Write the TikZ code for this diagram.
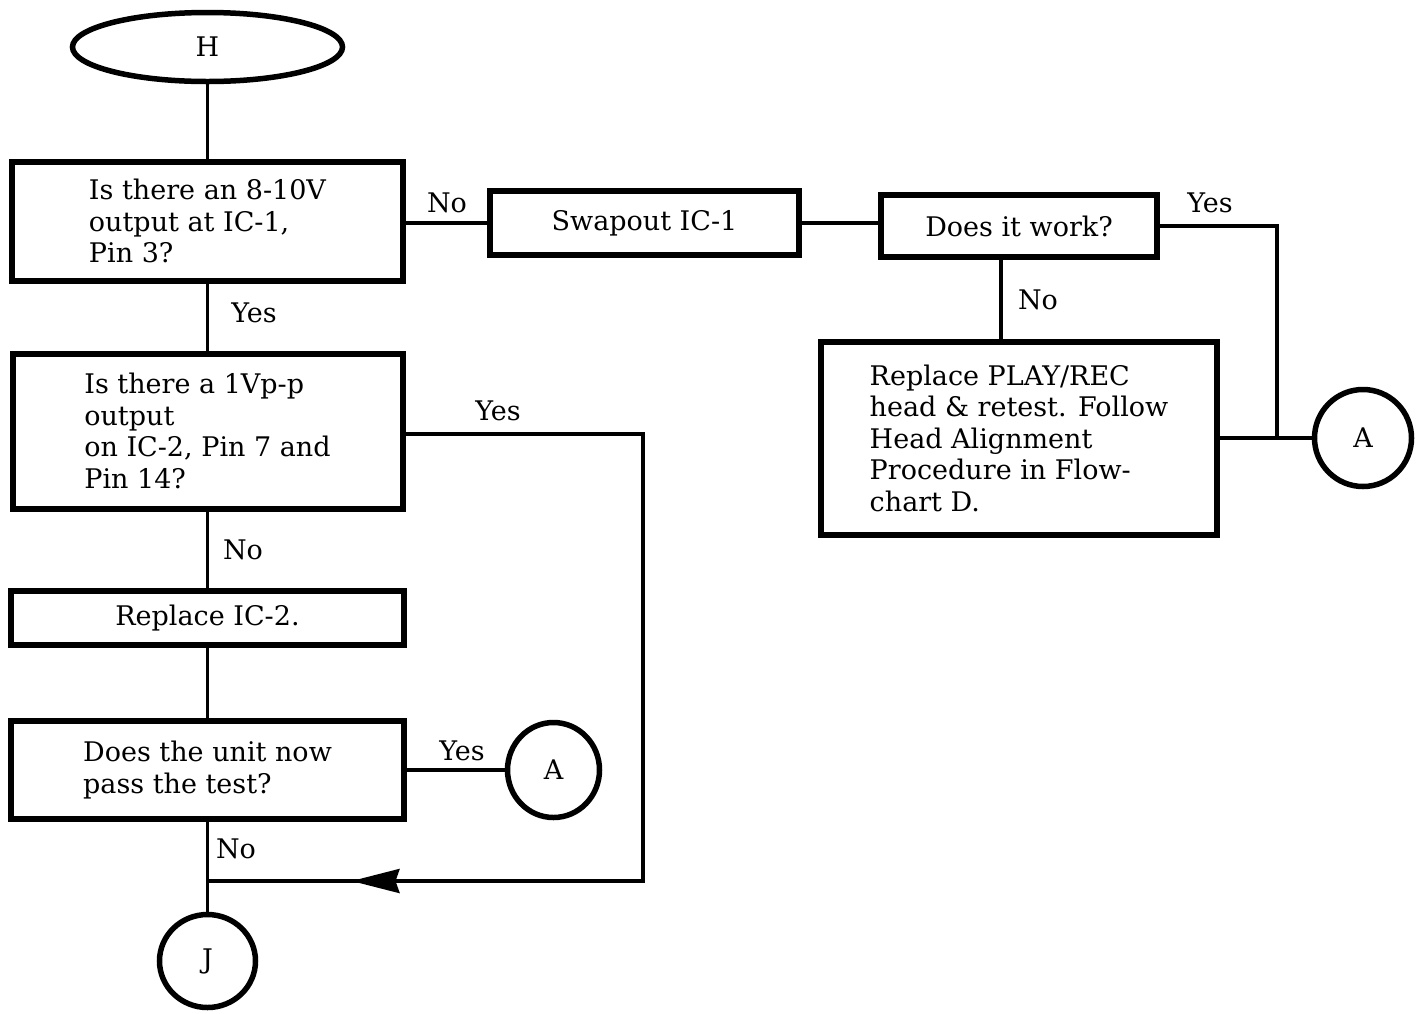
\documentclass[tikz,border=0pt]{standalone}
\usepackage{fontspec}
\setmainfont{DejaVu Serif}
\usetikzlibrary{arrows.meta,decorations.markings,shapes.geometric}
\begin{document}
\begin{tikzpicture}[x=1pt,y=-1pt,
  box/.style={draw,line width=6pt,inner sep=0pt,align=left,
    font=\fontsize{27}{31.5}\selectfont},
  term/.style={draw,line width=5.5pt,ellipse,inner sep=0pt,
    font=\fontsize{27}{30}\selectfont},
  conn/.style={line width=3.5pt},
  lbl/.style={inner sep=0pt,font=\fontsize{27}{30}\selectfont},
  midarrow/.style={postaction={decorate},decoration={markings,
    mark=at position -144pt with {\arrow{Stealth[length=48pt,width=24pt,inset=4pt]}}}}]
\useasboundingbox (0,0) rectangle (1423,1013);

% nodes
\node[term,minimum width=270,minimum height=69] (H) at (207.5,47) {H};
\node[box,minimum width=391,minimum height=119] (b1) at (207.5,221) {Is there an 8-10V\\output at IC-1,\\Pin 3?};
\node[box,minimum width=309,minimum height=64] (swap) at (644.5,223) {Swapout IC-1};
\node[box,minimum width=276,minimum height=62] (work) at (1019,226) {Does it work?};
\node[box,minimum width=396,minimum height=193] (play) at (1019,438) {Replace PLAY/REC\\head \& retest. Follow\\Head Alignment\\Procedure in Flow-\\chart D.};
\node[term,minimum width=97,minimum height=97] (A1) at (1363,438) {A};
\node[box,minimum width=390,minimum height=155] (b2) at (207.5,431) {Is there a 1Vp-p\\output\\on IC-2, Pin 7 and\\Pin 14?};
\node[box,minimum width=393,minimum height=54] (b3) at (207.5,618) {Replace IC-2.};
\node[box,minimum width=393,minimum height=98] (b4) at (207.5,770) {Does the unit now\\pass the test?};
\node[term,minimum width=92,minimum height=95] (A2) at (553.5,770) {A};
\node[term,minimum width=96,minimum height=93] (J) at (207.5,961) {J};

% junction coordinates
\coordinate (jA) at (1277,438);
\coordinate (c1) at (643,434);
\coordinate (c2) at (643,881);
\coordinate (jn) at (207.5,881);
\coordinate (wN) at (1001,257);

% connectors
\draw[conn] (H.south) -- (b1.north);
\draw[conn] (b1.east |- swap.west) -- (swap.west);
\draw[conn] (swap.east) -- (swap.east -| work.west);
\draw[conn] (work.east) -| (jA);
\draw[conn] (wN) -- (wN |- play.north);
\draw[conn] (play.east) -- (A1.west);
\draw[conn] (b1.south) -- (b2.north);
\draw[conn,midarrow] (b2.east |- c1) -- (c1) -- (c2) -- (jn);
\draw[conn] (b2.south) -- (b3.north);
\draw[conn] (b3.south) -- (b4.north);
\draw[conn] (b4.east) -- (A2.west);
\draw[conn] (b4.south) -- (J.north);

% labels
\node[lbl] (l1) at (447,203) {No};
\node[lbl] (l2) at (1210,203) {Yes};
\node[lbl] (l3) at (1038,300) {No};
\node[lbl] (l4) at (254,313) {Yes};
\node[lbl] (l5) at (498,411) {Yes};
\node[lbl] (l6) at (243,550) {No};
\node[lbl] (l7) at (462,751) {Yes};
\node[lbl] (l8) at (236,849) {No};
\end{tikzpicture}
\end{document}
